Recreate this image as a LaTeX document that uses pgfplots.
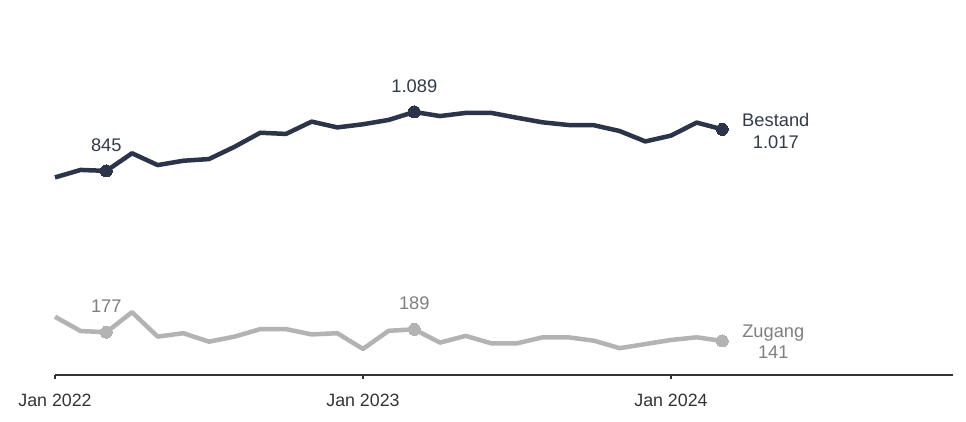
\documentclass[border=0pt]{standalone}
\usepackage{pgfplots}
\pgfplotsset{compat=1.18}
\usepackage{fontspec}
\setmainfont{Liberation Sans}
\definecolor{navy}{HTML}{2B3449}
\definecolor{navytxt}{HTML}{333A4C}
\definecolor{lgray}{HTML}{B3B3B3}
\definecolor{gtxt}{HTML}{7F7F7F}
\definecolor{axc}{HTML}{333333}
\begin{document}
\begin{tikzpicture}
\begin{axis}[
  scale only axis,
  width=898.3bp, height=375bp,
  xmin=0, xmax=35, ymin=0, ymax=1552.5,
  clip=false,
  axis x line=bottom, axis y line=none,
  axis line style={draw=axc, line width=2bp, -},
  xtick={0,12,24},
  xticklabels={Jan 2022,Jan 2023,Jan 2024},
  xtick style={draw=axc, line width=1.2bp},
  major tick length=4bp,
  tick align=outside,
  xticklabel style={anchor=base, yshift=-27.7bp, inner sep=0pt, text=axc,
    font=\fontsize{17.8bp}{20bp}\selectfont},
  every axis plot/.append style={line join=round},
]
\addplot[navy, line width=4.5bp, mark=*, mark size=6bp, mark indices={3,15,27},
  mark options={fill=navy, draw=navy, line width=0pt}] coordinates {
(0,818)(1,849)(2,845)(3,918)(4,869)(5,887)(6,894)(7,945)(8,1003)(9,998)
(10,1049)(11,1025)(12,1038)(13,1056)(14,1089)(15,1072)(16,1085)(17,1085)
(18,1065)(19,1046)(20,1035)(21,1034)(22,1010)(23,967)(24,991)(25,1045)(26,1017)};
\addplot[lgray, line width=4.5bp, mark=*, mark size=6bp, mark indices={3,15,27},
  mark options={fill=lgray, draw=lgray, line width=0pt}] coordinates {
(0,241)(1,182)(2,177)(3,260)(4,159)(5,173)(6,138)(7,159)(8,190)(9,190)
(10,168)(11,173)(12,108)(13,183)(14,189)(15,134)(16,162)(17,131)(18,131)
(19,156)(20,156)(21,142)(22,111)(23,128)(24,145)(25,156)(26,141)};
\begin{scope}[every node/.style={inner sep=0pt, anchor=base, font=\fontsize{18.3bp}{22bp}\selectfont}]
\node[text=navytxt, yshift=19.5bp] at (axis cs:2,845) {845};
\node[text=navytxt, yshift=19.5bp] at (axis cs:14,1089) {1.089};
\node[text=gtxt, yshift=19.5bp] at (axis cs:2,177) {177};
\node[text=gtxt, yshift=19.5bp] at (axis cs:14,189) {189};
\node[text=navytxt, xshift=53.5bp, yshift=3.3bp] at (axis cs:26,1017) {Bestand};
\node[text=navytxt, xshift=53.5bp, yshift=-19.3bp] at (axis cs:26,1017) {1.017};
\node[text=gtxt, xshift=51bp, yshift=3.7bp] at (axis cs:26,141) {Zugang};
\node[text=gtxt, xshift=51bp, yshift=-17.3bp] at (axis cs:26,141) {141};
\end{scope}
\end{axis}
\path[use as bounding box] (-55bp,-47bp) rectangle (911bp,375bp);
\end{tikzpicture}
\end{document}
